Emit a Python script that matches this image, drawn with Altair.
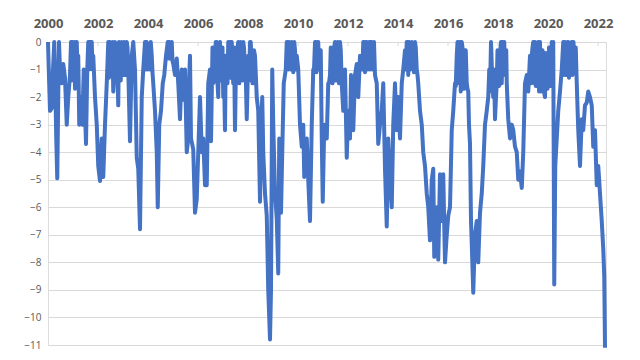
import altair as alt
import pandas as pd

# Decimal years and drawdown values (%)
years_a = [2000.00, 2000.04, 2000.08, 2000.15, 2000.20, 2000.25, 2000.29, 2000.33, 2000.37, 2000.41,
           2000.44, 2000.48, 2000.55, 2000.61, 2000.68, 2000.75, 2000.81, 2000.88, 2000.92, 2001.01,
           2001.08, 2001.15, 2001.21, 2001.25, 2001.32, 2001.37, 2001.43, 2001.48, 2001.52, 2001.57,
           2001.61, 2001.75, 2001.81, 2001.88, 2001.95, 2002.01, 2002.08, 2002.15, 2002.21, 2002.28,
           2002.35, 2002.41, 2002.55, 2002.61, 2002.68, 2002.75, 2002.81, 2002.88, 2002.95, 2003.08,
           2003.15, 2003.21, 2003.28, 2003.35, 2003.41, 2003.48, 2003.55, 2003.61, 2003.68, 2003.75,
           2003.81, 2003.88, 2004.01, 2004.15, 2004.21, 2004.28, 2004.35, 2004.39, 2004.45, 2004.52,
           2004.59, 2004.65, 2004.72, 2004.79, 2004.95, 2005.01, 2005.08, 2005.15, 2005.21, 2005.28,
           2005.35, 2005.41, 2005.48, 2005.55, 2005.61]
values_a = [0, -1.3, -2.5, -2.4, -1.0, 0, -1.5, -3.5, -4.95, -2.0,
            0, -1.0, -1.5, -0.8, -1.3, -3.0, -2.0, -1.2, 0, -0.3,
            -1.7, 0, -0.5, -3.0, -2.0, -3.0, -1.0, -2.5, -3.7, -1.0,
            0, 0, -0.5, -2.0, -3.0, -4.5, -5.05, -3.5, -4.9, -3.0,
            -1.5, 0, -0.8, -1.8, 0, -1.0, -2.3, -0.5, 0, -0.7,
            0, -1.0, -3.6, -0.5, 0, -1.0, -4.2, -4.6, -6.8, -2.0,
            -1.0, 0, -0.3, -0.5, -1.5, -2.5, -4.0, -6.0, -3.0, -2.5,
            -1.5, -1.2, -0.5, 0, 0, -0.8, -1.2, -0.6, -1.5, -2.8,
            -1.0, -2.1, -1.0, -4.0, -3.5]

years_b = [2005.64, 2005.68, 2005.72, 2005.81, 2005.88, 2005.95, 2006.01, 2006.08, 2006.15, 2006.21,
           2006.28, 2006.35, 2006.41, 2006.48, 2006.52, 2006.61, 2006.68, 2006.75, 2006.81, 2006.88,
           2006.95, 2007.01, 2007.08, 2007.15, 2007.21, 2007.35, 2007.41, 2007.48, 2007.55, 2007.61,
           2007.75, 2007.81, 2007.88, 2007.95, 2008.01, 2008.08, 2008.15, 2008.21, 2008.28, 2008.35,
           2008.41, 2008.48, 2008.53, 2008.57, 2008.61, 2008.68, 2008.75, 2008.81, 2008.88, 2008.92,
           2008.97, 2009.01, 2009.08, 2009.15, 2009.21, 2009.25, 2009.32, 2009.37, 2009.43, 2009.48,
           2009.55, 2009.68, 2009.75, 2009.88, 2009.95, 2010.01, 2010.08, 2010.15, 2010.21, 2010.25,
           2010.31, 2010.35, 2010.41, 2010.48, 2010.55, 2010.61, 2010.68, 2010.81, 2010.88, 2010.95,
           2010.99, 2011.05, 2011.15, 2011.21]
values_b = [-1.5, -0.5, -3.5, -3.9, -6.2, -5.7, -4.0, -2.0, -4.0, -3.5,
            -5.2, -5.2, -1.5, -1.0, -3.6, -1.5, -0.5, 0, -2.0, 0,
            -0.5, -2.0, -3.2, -1.0, 0, 0, -1.5, -3.2, -1.0, 0,
            -0.5, 0, -1.0, -2.8, -0.5, 0, -1.0, -1.5, -0.5, -2.0,
            -2.5, -5.8, -3.0, -2.0, -4.0, -5.5, -6.3, -9.0, -10.8, -9.0,
            -1.0, -3.0, -5.5, -6.4, -8.4, -3.5, -6.2, -4.0, -1.5, -1.2,
            0, -0.8, 0, -0.3, -0.5, -1.0, -3.0, -3.8, -3.0, -4.9,
            -4.0, -3.5, -5.0, -6.5, -3.0, -1.0, 0, 0, -1.0, -3.5,
            -5.8, -3.0, -3.5, -1.5]

years_c = [2011.24, 2011.28, 2011.35, 2011.41, 2011.48, 2011.55, 2011.61, 2011.68, 2011.75, 2011.81,
           2011.88, 2011.95, 2012.01, 2012.08, 2012.12, 2012.17, 2012.21, 2012.28, 2012.35, 2012.41,
           2012.48, 2012.55, 2012.61, 2012.75, 2012.81, 2012.95, 2013.01, 2013.08, 2013.15, 2013.21,
           2013.28, 2013.35, 2013.41, 2013.48, 2013.55, 2013.61, 2013.68, 2013.75, 2013.81, 2013.88,
           2013.95, 2014.01, 2014.08, 2014.15, 2014.21, 2014.28, 2014.35, 2014.48, 2014.55, 2014.61,
           2014.68, 2014.75, 2014.81, 2014.88, 2014.95, 2015.01, 2015.08, 2015.15, 2015.21, 2015.28,
           2015.35, 2015.41, 2015.45, 2015.55, 2015.61, 2015.68, 2015.75, 2015.81, 2015.88, 2015.95,
           2016.01, 2016.08, 2016.15, 2016.21, 2016.28, 2016.35, 2016.41, 2016.55, 2016.61, 2016.68,
           2016.75, 2016.81]
values_c = [-1.5, -1.2, -0.5, -1.0, 0, -0.2, -1.0, 0, -1.5, -2.5,
            -1.0, -4.2, -2.5, -3.5, -1.2, -2.5, -3.2, -1.2, -0.8, -2.0,
            -0.5, -1.0, 0, 0, -0.4, 0, -0.5, -1.2, -1.5, -3.7,
            -3.0, -2.5, -1.5, -4.6, -6.7, -3.5, -5.0, -6.0, -3.0, -1.5,
            -3.2, -2.0, -3.5, -1.5, -1.0, -0.3, 0, -0.7, 0, -0.5,
            0, -1.0, -1.5, -2.5, -3.0, -4.0, -4.5, -5.5, -6.0, -7.2,
            -5.0, -4.6, -7.8, -6.0, -7.9, -4.8, -6.5, -4.8, -8.0, -7.0,
            -6.3, -6.0, -3.2, -2.5, -1.5, -0.5, 0, 0, -1.5, -0.3,
            -1.5, -1.8]

years_d = [2016.84, 2016.88, 2016.92, 2016.95, 2017.01, 2017.08, 2017.15, 2017.21, 2017.28, 2017.35,
           2017.41, 2017.48, 2017.55, 2017.61, 2017.65, 2017.68, 2017.72, 2017.77, 2017.81, 2017.88,
           2017.95, 2018.01, 2018.08, 2018.12, 2018.21, 2018.25, 2018.31, 2018.35, 2018.41, 2018.48,
           2018.55, 2018.61, 2018.68, 2018.75, 2018.81, 2018.88, 2018.95, 2019.01, 2019.08, 2019.15,
           2019.21, 2019.28, 2019.35, 2019.41, 2019.55, 2019.61, 2019.75, 2019.81, 2019.88, 2019.95,
           2020.01, 2020.08, 2020.15, 2020.21, 2020.25, 2020.29, 2020.35, 2020.41, 2020.48, 2020.55,
           2020.61, 2020.75, 2020.81, 2020.88, 2020.95, 2021.08, 2021.15, 2021.21, 2021.28, 2021.35,
           2021.41, 2021.48, 2021.55, 2021.61, 2021.68, 2021.75, 2021.81, 2021.88, 2021.95, 2022.01,
           2022.08, 2022.15, 2022.21, 2022.25, 2022.28]
values_d = [-3.0, -3.7, -6.5, -7.3, -9.1, -7.0, -6.5, -8.0, -6.2, -5.5,
            -4.5, -3.0, -2.5, -2.0, -1.0, -1.8, 0, -1.5, -2.0, -2.8,
            -1.5, -0.5, -1.5, 0, -1.0, 0, -0.5, -1.5, -2.8, -3.5,
            -3.0, -3.2, -3.8, -4.0, -5.0, -4.7, -5.3, -4.0, -1.5, -1.2,
            -1.8, -0.5, -0.5, 0, -0.8, 0, -1.0, -0.5, -2.0, -1.0,
            -1.5, -0.8, 0, 0, -8.8, -4.5, -3.5, -2.5, -1.8, -1.0,
            0, -1.0, 0, -1.0, 0, -0.5, -1.5, -3.2, -4.5, -2.8,
            -3.2, -2.3, -2.2, -1.8, -2.0, -2.3, -3.8, -3.2, -5.2, -4.5,
            -5.5, -6.5, -7.5, -8.5, -11.1]

# Extra readings inside the dense near-zero bands (fast oscillations of the daily series)
band_years = [2000.94, 2000.97, 2001.03, 2001.05, 2001.11, 2001.13, 2001.18,
              2001.64, 2001.67, 2001.70, 2001.72, 2001.78,
              2002.44, 2002.47, 2002.51, 2002.58, 2002.64, 2002.71, 2002.78, 2002.84, 2002.91,
              2002.98, 2003.02, 2003.05, 2003.11, 2003.18,
              2003.91, 2003.95, 2003.98, 2004.04, 2004.08, 2004.11, 2004.18,
              2004.82, 2004.86, 2004.90, 2004.98,
              2006.58, 2006.64, 2006.71, 2006.78, 2006.84, 2006.91, 2006.98, 2007.04, 2007.11,
              2007.18, 2007.24, 2007.28, 2007.31,
              2007.38, 2007.44, 2007.51, 2007.58, 2007.65, 2007.70, 2007.78, 2007.84, 2007.91,
              2008.04, 2008.11, 2008.18, 2008.24,
              2009.51, 2009.58, 2009.62, 2009.65, 2009.71, 2009.78, 2009.81, 2009.85, 2009.91,
              2010.64, 2010.71, 2010.74, 2010.78, 2010.84, 2010.91,
              2011.31, 2011.38, 2011.44, 2011.51, 2011.58, 2011.64, 2011.71,
              2012.58, 2012.64, 2012.68, 2012.71, 2012.78, 2012.85, 2012.88, 2012.91, 2012.98, 2013.04,
              2014.31, 2014.38, 2014.41, 2014.44, 2014.51, 2014.58, 2014.64, 2014.71, 2014.78,
              2016.31, 2016.38, 2016.44, 2016.48, 2016.51, 2016.58, 2016.64, 2016.71, 2016.78,
              2017.74, 2017.84, 2017.91, 2017.98, 2018.04, 2018.10, 2018.15, 2018.18, 2018.28, 2018.33,
              2019.31, 2019.38, 2019.44, 2019.48, 2019.51, 2019.58, 2019.64, 2019.68, 2019.71,
              2019.78, 2019.84, 2019.91, 2019.98, 2020.04, 2020.11, 2020.18,
              2020.64, 2020.68, 2020.71, 2020.78, 2020.84, 2020.91, 2020.98, 2021.02, 2021.05, 2021.11]
band_values = [-1.4, 0, -1.2, 0, -1.5, 0, -1.0,
               -1.0, 0, -0.9, 0, -1.0,
               -1.3, 0, -1.2, 0, -1.3, -0.2, -1.2, 0, -1.4,
               -0.2, -1.2, 0, -1.2, -0.2,
               -1.0, 0, -1.0, -0.1, -1.0, 0, -1.1,
               -0.6, 0, -0.6, -0.7,
               -0.2, -1.4, 0, -1.5, -0.3, -1.4, -0.2, -1.3, -0.5,
               -1.5, 0, -1.3, 0,
               -1.0, -0.2, -1.4, -0.2, -1.5, 0, -1.4, -0.2, -1.2,
               -1.4, 0, -1.5, -0.3,
               -1.0, 0, -1.0, 0, -1.0, -0.1, -1.1, 0, -1.0,
               -1.0, 0, -1.1, 0, -1.0, -0.3,
               -0.2, -1.5, -0.2, -1.4, 0, -1.5, -0.3,
               -1.0, 0, -1.1, 0, -1.0, 0, -1.0, 0, -1.0, 0,
               -1.0, 0, -1.2, 0, -1.0, -0.2, -1.1, -0.2, -1.2,
               -1.6, 0, -1.5, 0, -1.8, -0.2, -1.7, -0.3, -1.7,
               -0.5, -1.0, -2.2, -0.3, -1.6, -0.2, -1.5, 0, -1.2, -0.3,
               -1.5, -0.2, -1.5, 0, -1.6, -0.3, -1.8, 0, -1.8,
               -0.3, -1.8, -0.4, -1.7, -0.2, -1.6, -0.5,
               -1.2, 0, -1.2, 0, -1.3, -0.1, -1.2, 0, -1.0, -0.2]

tick_years = [2000, 2002, 2004, 2006, 2008, 2010, 2012, 2014, 2016, 2018, 2020, 2022]
y_ticks = [0, -1, -2, -3, -4, -5, -6, -7, -8, -9, -10, -11]

df = pd.DataFrame({
    "year": years_a + years_b + years_c + years_d + band_years,
    "dd": values_a + values_b + values_c + values_d + band_values,
}).sort_values("year", kind="stable").reset_index(drop=True)
df["order"] = range(len(df))
ticks_df = pd.DataFrame({"year": tick_years})

GREY = "#595959"
FONT = "Open Sans"

x_scale = alt.Scale(domain=[2000, 2022.32], nice=False, zero=False)
y_scale = alt.Scale(domain=[-11, 0], nice=False)

line = alt.Chart(df).mark_line(color="#4472C4", strokeWidth=4, strokeJoin="round").encode(
    x=alt.X("year:Q", scale=x_scale,
            axis=alt.Axis(orient="top", values=tick_years, format="d", title=None,
                          labelFont=FONT, labelFontSize=13, labelFontWeight="bold",
                          labelColor=GREY, labelPadding=12, ticks=False, domain=False,
                          grid=False, labelFlush=False)),
    y=alt.Y("dd:Q", scale=y_scale,
            axis=alt.Axis(values=y_ticks, title=None, labelFont=FONT, labelFontSize=10,
                          labelColor=GREY, labelPadding=7, ticks=False, domain=False,
                          grid=True, gridColor="#d9d9d9", gridWidth=1)),
    order="order:Q",
)

tick_marks = alt.Chart(ticks_df).mark_rule(color="#d9d9d9", strokeWidth=1).encode(
    x=alt.X("year:Q", scale=x_scale),
    y=alt.value(0),
    y2=alt.value(4),
)

chart = alt.layer(tick_marks, line).properties(
    width=558,
    height=303,
    autosize=alt.AutoSizeParams(type="none"),
    padding={"left": 40, "top": 34, "right": 20, "bottom": 5},
).configure_view(stroke=None).configure(background="white")

chart.save("out.html", embed_options={"renderer": "svg", "actions": False})
